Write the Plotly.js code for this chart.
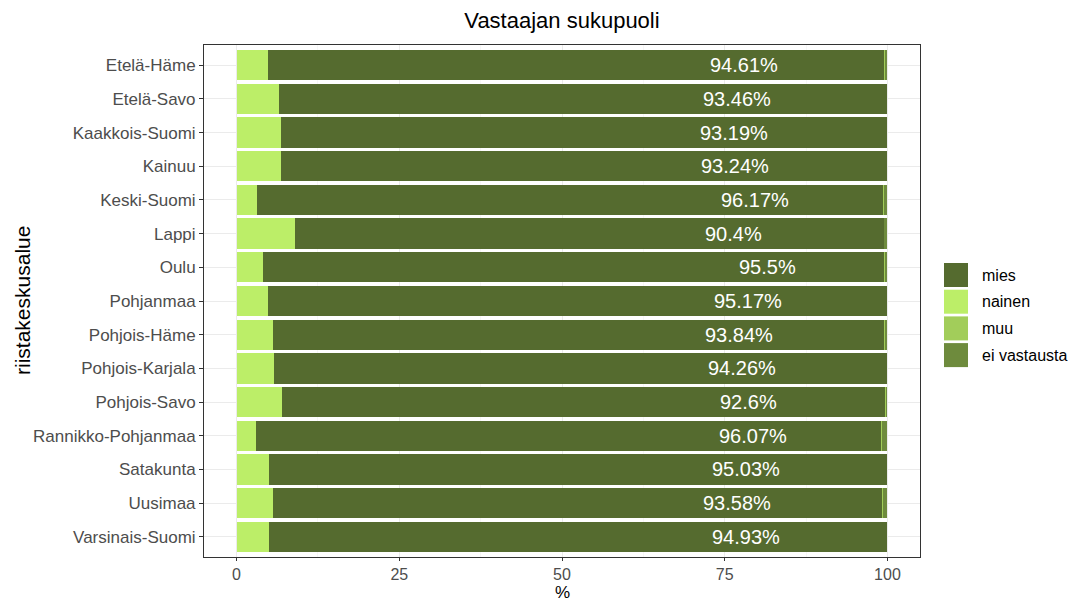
<!DOCTYPE html>
<html>
<head>
<meta charset="utf-8">
<script src="https://cdn.plot.ly/plotly-3.0.1.min.js"></script>
<style>html,body{margin:0;padding:0;background:#fff;}#chart{width:1071px;height:601px;}</style>
</head>
<body>
<div id="chart"></div>
<script>
const regions = ['Etelä-Häme','Etelä-Savo','Kaakkois-Suomi','Kainuu','Keski-Suomi','Lappi','Oulu','Pohjanmaa','Pohjois-Häme','Pohjois-Karjala','Pohjois-Savo','Rannikko-Pohjanmaa','Satakunta','Uusimaa','Varsinais-Suomi'];
const mies   = [94.61,93.46,93.19,93.24,96.17,90.4,95.5,95.17,93.84,94.26,92.6,96.07,95.03,93.58,94.93];
const nainen = [4.86,6.5,6.81,6.76,3.17,9.0,4.0,4.83,5.67,5.74,7.0,3.0,4.97,5.57,4.96];
const muu    = [0.1,0,0,0,0.13,0.1,0.1,0,0.1,0,0.1,0.13,0,0.12,0];
const eiVastausta = [0.43,0.04,0,0,0.53,0.5,0.4,0,0.39,0,0.3,0.8,0,0.73,0.11];
const labelAt = [77.9,76.9,76.5,76.6,79.6,76.4,81.6,78.5,77.2,77.6,78.7,79.4,78.3,76.9,78.2];
const legendNames = ['mies','nainen','muu','ei vastausta'];
const xTicks = [0,25,50,75,100];
const xTickText = ['0','25','50','75','100'];

const colors = {mies:'#556B2F', nainen:'#BCEE68', muu:'#A2CD5A', 'ei vastausta':'#6E8B3D'};
const FONT = 'Liberation Sans, Arial, sans-serif';

function barTrace(name, vals){
  return {type:'bar', orientation:'h', name:name, x:vals, y:regions,
    marker:{color:colors[name], line:{width:0}}, showlegend:false, hoverinfo:'x+y+name'};
}
const data = [
  barTrace('nainen', nainen),
  barTrace('mies', mies),
  barTrace('muu', muu),
  barTrace('ei vastausta', eiVastausta)
];

const W = 1071, H = 601;
const M = {l:204, r:151, t:45, b:44};
const pw = W - M.l - M.r, ph = H - M.t - M.b;
const px2x = p => (p - M.l)/pw;
const py2y = p => 1 - (p - M.t)/ph;

const annotations = regions.map((r,i)=>({
  x: labelAt[i], y: r, xref:'x', yref:'y', text: mies[i] + '%', showarrow:false,
  font:{family:FONT, size:20, color:'#FFFFFF'}, xanchor:'center', yanchor:'middle'
}));

// axis titles
annotations.push({xref:'paper', yref:'paper', x:0.5, y:py2y(592), text:'%', showarrow:false,
  xanchor:'center', yanchor:'middle', font:{family:FONT, size:17, color:'#000000'}});
annotations.push({xref:'paper', yref:'paper', x:px2x(22), y:py2y(301), text:'riistakeskusalue', showarrow:false,
  textangle:-90, xanchor:'center', yanchor:'middle', font:{family:FONT, size:21, color:'#000000'}});

// custom legend
const shapes = [];
const keySize = 24, keyStep = 26.7, keyTop = 263, keyLeft = 944;
legendNames.forEach((n,i)=>{
  const top = keyTop + i*keyStep;
  shapes.push({type:'rect', xref:'paper', yref:'paper',
    x0:px2x(keyLeft), x1:px2x(keyLeft+keySize), y0:py2y(top+keySize), y1:py2y(top),
    fillcolor:colors[n], line:{width:0}});
  annotations.push({xref:'paper', yref:'paper', x:px2x(980), y:py2y(top+keySize/2),
    text:n, showarrow:false, xanchor:'left', yanchor:'middle',
    font:{family:FONT, size:16, color:'#000000'}});
});

const layout = {
  width:W, height:H,
  margin:M,
  paper_bgcolor:'#FFFFFF', plot_bgcolor:'#FFFFFF',
  font:{family:FONT},
  barmode:'stack', bargap:0.1,
  title:{text:'Vastaajan sukupuoli', font:{family:FONT, size:22, color:'#000000'},
    x:(M.l + pw/2)/W, xanchor:'center', y:1-20/H, yanchor:'middle', xref:'container', yref:'container'},
  xaxis:{
    range:[-5,105], tickvals:xTicks, ticktext:xTickText,
    showgrid:true, gridcolor:'#EBEBEB', gridwidth:1,
    minor:{tickvals:[12.5,37.5,62.5,87.5], showgrid:true, gridcolor:'#F2F2F2', gridwidth:0.6},
    zeroline:false, showline:true, mirror:true, linecolor:'#333333', linewidth:1,
    ticks:'outside', ticklen:3, tickcolor:'#333333', tickwidth:1,
    tickfont:{family:FONT, size:16, color:'#4D4D4D'},
    fixedrange:true
  },
  yaxis:{
    type:'category', categoryorder:'array', categoryarray:regions,
    range:[14.6,-0.6],
    showgrid:true, gridcolor:'#EBEBEB', gridwidth:1,
    zeroline:false, showline:true, mirror:true, linecolor:'#333333', linewidth:1,
    ticks:'outside', ticklen:4, tickcolor:'#333333', tickwidth:1,
    tickfont:{family:FONT, size:17, color:'#4D4D4D'},
    fixedrange:true
  },
  annotations:annotations,
  shapes:shapes,
  showlegend:false
};

Plotly.newPlot('chart', data, layout, {displayModeBar:false, staticPlot:true});
</script>
</body>
</html>
